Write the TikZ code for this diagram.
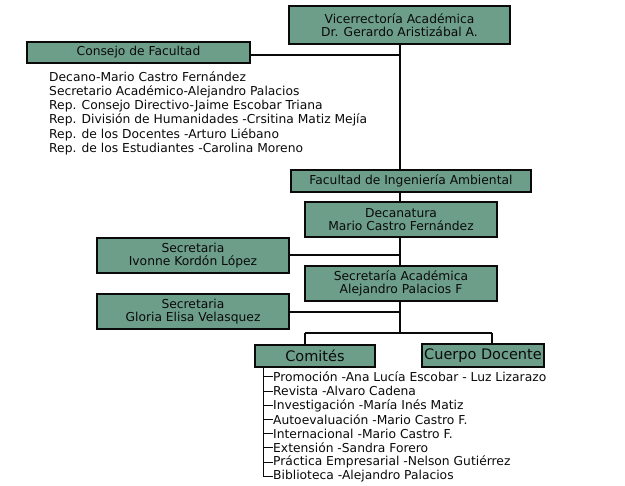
\documentclass[tikz,border=0pt]{standalone}
\usepackage{fontspec}
\setmainfont{DejaVu Sans}
\definecolor{boxfill}{RGB}{108,158,138}
\definecolor{ink}{RGB}{10,10,10}
\begin{document}
\begin{tikzpicture}[x=1pt,y=-1pt,
  orgbox/.style={draw=ink,line width=1.4pt,fill=boxfill,inner sep=0pt,align=center,
    font=\fontsize{12.3}{13.5}\selectfont,text=ink},
  bigbox/.style={orgbox,font=\fontsize{14.5}{16}\selectfont},
  link/.style={draw=ink,line width=1.3pt},
  tick/.style={draw=ink,line width=1pt},
  member/.style={anchor=west,inner sep=0pt,font=\fontsize{12.3}{14.4}\selectfont,text=ink},
  item/.style={anchor=west,inner sep=0pt,font=\fontsize{12.3}{14.2}\selectfont,text=ink}]
\useasboundingbox (0,0) rectangle (625,486);
\fill[white] (0,0) rectangle (625,486);

\node[orgbox,minimum width=221pt,minimum height=38pt] (vice) at (399.5,25) {Vicerrectoría Académica\\Dr. Gerardo Aristizábal A.};
\node[orgbox,minimum width=223pt,minimum height=21pt] (consejo) at (138.5,52.5) {Consejo de Facultad};
\node[orgbox,minimum width=240pt,minimum height=22pt] (facultad) at (411,181) {Facultad de Ingeniería Ambiental};
\node[orgbox,minimum width=192pt,minimum height=35pt] (decan) at (401,219.5) {Decanatura\\Mario Castro Fernández};
\node[orgbox,minimum width=192pt,minimum height=35pt] (secIv) at (193,255.5) {Secretaria\\Ivonne Kordón López};
\node[orgbox,minimum width=192pt,minimum height=35pt] (secAc) at (401,283.5) {Secretaría Académica\\Alejandro Palacios F};
\node[orgbox,minimum width=192pt,minimum height=35pt] (secGl) at (193,311.5) {Secretaria\\Gloria Elisa Velasquez};
\node[bigbox,minimum width=120pt,minimum height=22pt] (comites) at (315,356) {Comités};
\node[bigbox,minimum width=122pt,minimum height=23pt] (cuerpo) at (483,355.5) {Cuerpo Docente};

% members of Consejo
\node[member] (m1) at (49,77) {Decano-Mario Castro Fernández};
\node[member] (m2) at (49,91.4) {Secretario Académico-Alejandro Palacios};
\node[member] (m3) at (49,105.8) {Rep. Consejo Directivo-Jaime Escobar Triana};
\node[member] (m4) at (49,120.2) {Rep. División de Humanidades -Crsitina Matiz Mejía};
\node[member] (m5) at (49,134.6) {Rep. de los Docentes -Arturo Liébano};
\node[member] (m6) at (49,149) {Rep. de los Estudiantes -Carolina Moreno};

% junctions
\coordinate (jc) at (400,55);
\coordinate (jiv) at (400,255);
\coordinate (jgl) at (400,312);
\coordinate (jb) at (400,333);
\coordinate (jl) at (305,333);
\coordinate (jr) at (492,333);

\draw[link] (vice.south -| jc) -- (facultad.north -| jc);
\draw[link] (consejo.east |- jc) -- (jc);
\draw[link] (facultad.south -| jc) -- (decan.north -| jc);
\draw[link] (decan.south -| jc) -- (secAc.north -| jc);
\draw[link] (secIv.east |- jiv) -- (jiv);
\draw[link] (secAc.south -| jc) -- (jb);
\draw[link] (secGl.east |- jgl) -- (jgl);
\draw[link] (jl) -- (jr);
\draw[link] (jl) -- (comites.north -| jl);
\draw[link] (jr) -- (cuerpo.north -| jr);

% committees list
\node[item] (c1) at (273,377) {Promoción -Ana Lucía Escobar - Luz Lizarazo};
\node[item] (c2) at (273,391.2) {Revista -Alvaro Cadena};
\node[item] (c3) at (273,405.4) {Investigación -María Inés Matiz};
\node[item] (c4) at (273,419.6) {Autoevaluación -Mario Castro F.};
\node[item] (c5) at (273,433.8) {Internacional -Mario Castro F.};
\node[item] (c6) at (273,448) {Extensión -Sandra Forero};
\node[item] (c7) at (273,462.2) {Práctica Empresarial -Nelson Gutiérrez};
\node[item] (c8) at (273,476.4) {Biblioteca -Alejandro Palacios};
\coordinate (lt) at (263,367);
\draw[tick] (lt) -- (lt |- c8.west) -- (c8.west);
\foreach \i in {1,...,7}{
  \draw[tick] (lt |- c\i.west) -- (c\i.west);
}
\end{tikzpicture}
\end{document}
